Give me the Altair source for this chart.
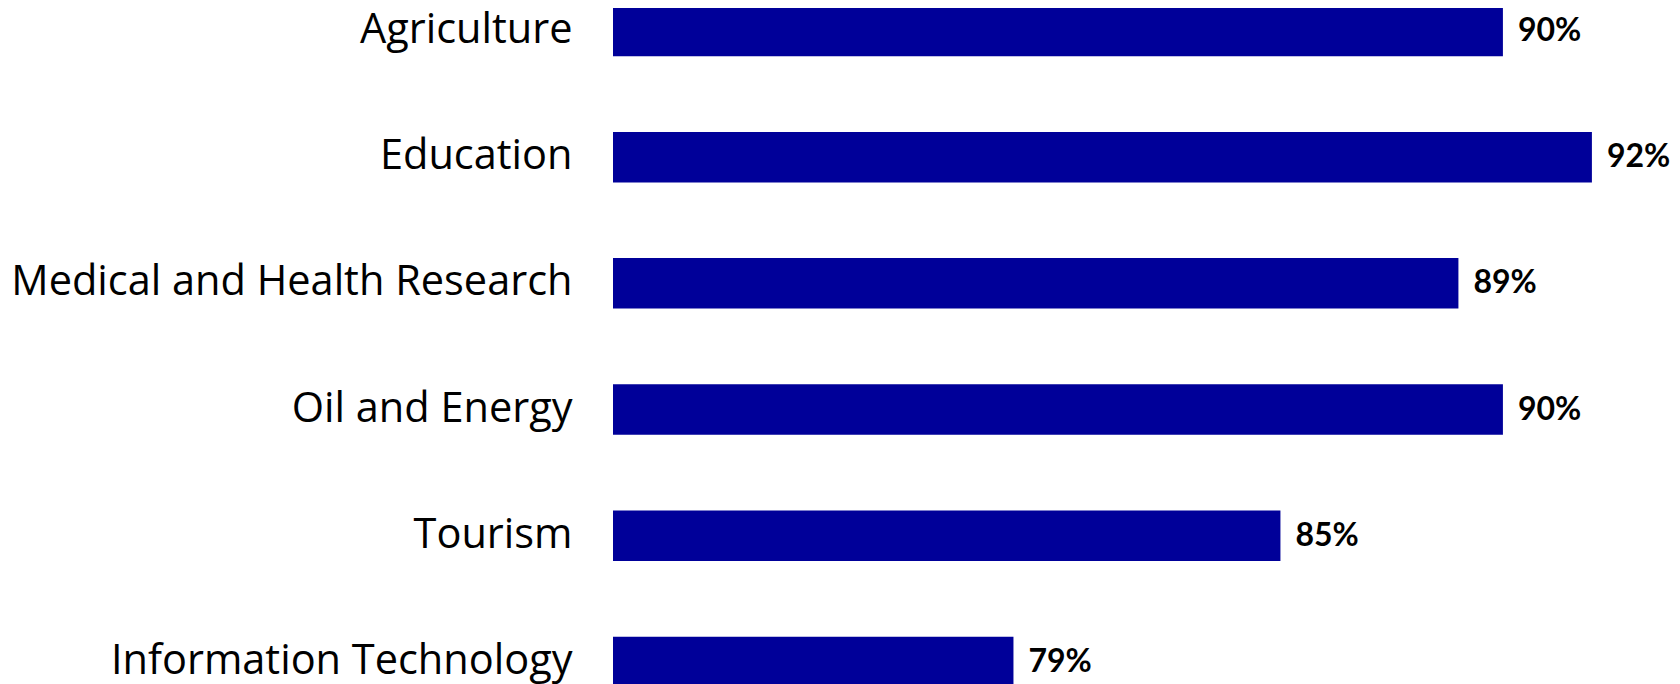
import altair as alt
import pandas as pd

categories = ["Agriculture", "Education", "Medical and Health Research",
              "Oil and Energy", "Tourism", "Information Technology"]
values = [90, 92, 89, 90, 85, 79]

df = pd.DataFrame({"category": categories, "value": values})
df["label"] = [f"{v}%" for v in values]

y_enc = alt.Y("category:N", sort=categories, title=None,
              scale=alt.Scale(range=[-2.3, 679.2], paddingInner=0.6, paddingOuter=0),
              axis=alt.Axis(domain=False, ticks=False, grid=False, labelPadding=41,
                            labelFont="Open Sans", labelFontSize=41.5, labelColor="#000000",
                            labelLimit=800))
x_enc = alt.X("value:Q", title=None,
              scale=alt.Scale(domain=[70, 93.8], zero=False, nice=False),
              axis=None)

bars = alt.Chart(df).mark_bar(color="#000099", clip=True).encode(
    y=y_enc,
    x=x_enc,
)

labels = alt.Chart(df).mark_text(align="left", baseline="middle", dx=15,
                                 font="Lato", fontSize=32, fontWeight="bold",
                                 color="#000000").encode(
    y=alt.Y("category:N", sort=categories),
    x=alt.X("value:Q"),
    text="label:N",
)

chart = (bars + labels).properties(
    width=1059, height=676,
    autosize=alt.AutoSizeParams(type="none"),
    padding={"left": 605, "top": 0, "right": 0, "bottom": 0},
).configure(background="#ffffff").configure_view(stroke=None)

chart.save("out.html", embed_options={"renderer": "svg", "actions": False})
